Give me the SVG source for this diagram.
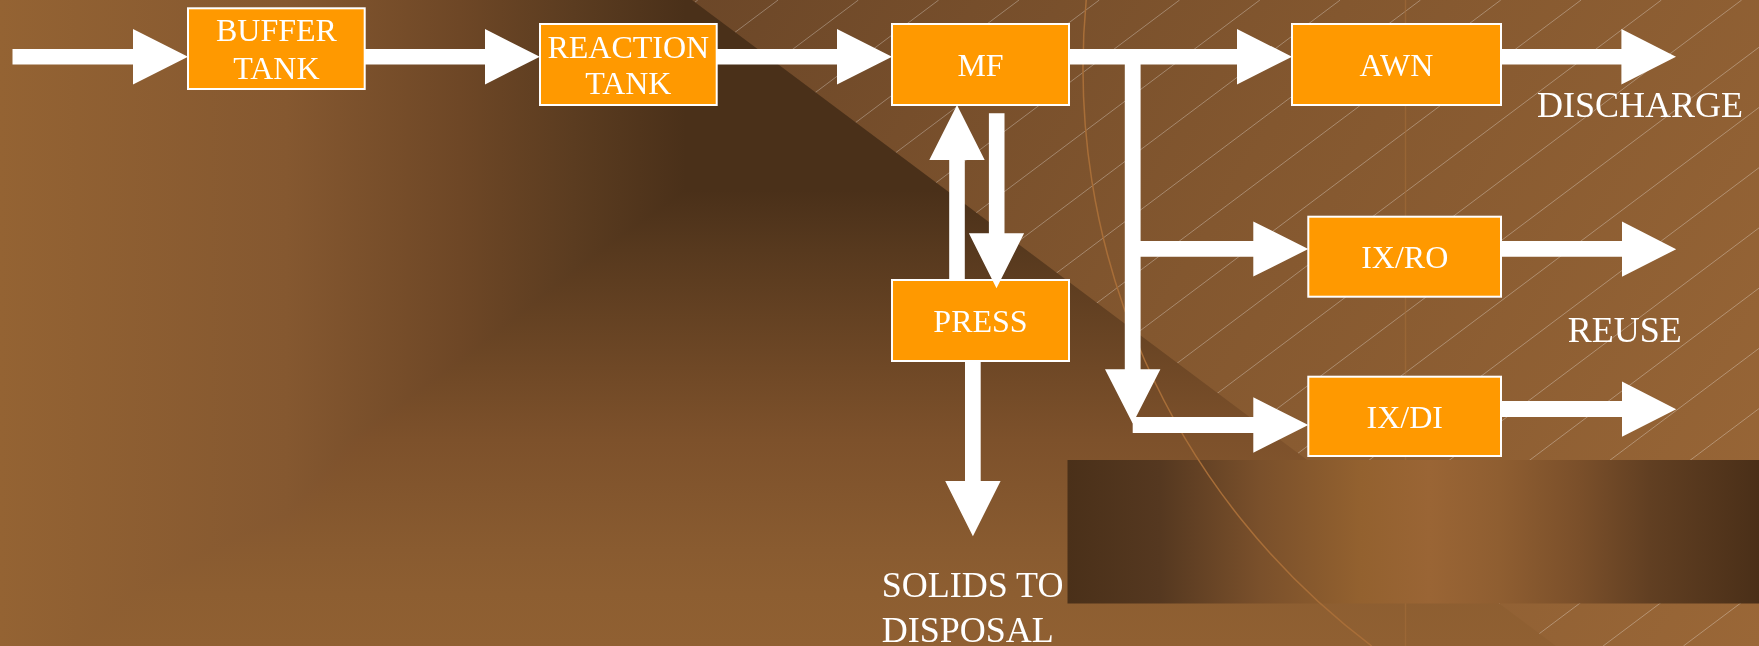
<svg xmlns="http://www.w3.org/2000/svg" width="1759" height="646" viewBox="0 0 1759 646">
<defs>
<style>
.box{fill:#FF9900;stroke:#FFFFFF;stroke-width:2}
.bt{font-family:"Liberation Serif","Times New Roman",serif;font-size:32px;fill:#FFFFFF;text-anchor:middle}
.lbl{font-family:"Liberation Serif","Times New Roman",serif;font-size:36px;fill:#FFFFFF}
.arr{fill:#FFFFFF}
.hatch{stroke:#FFFFFF;stroke-opacity:0.3;stroke-width:1;fill:none}
</style>
<linearGradient id="bgH" gradientUnits="userSpaceOnUse" x1="0" y1="0" x2="1759" y2="0">
<stop offset="0" stop-color="#946333"/>
<stop offset="0.163" stop-color="#855830"/>
<stop offset="0.261" stop-color="#6E4726"/>
<stop offset="0.326" stop-color="#5B3C20"/>
<stop offset="0.39" stop-color="#4A3019"/>
<stop offset="1" stop-color="#4A3019"/>
</linearGradient>
<linearGradient id="bgV" gradientUnits="userSpaceOnUse" x1="0" y1="0" x2="0" y2="646">
<stop offset="0" stop-color="#4A3019"/>
<stop offset="0.294" stop-color="#4A3019"/>
<stop offset="0.387" stop-color="#57391E"/>
<stop offset="0.593" stop-color="#724A27"/>
<stop offset="0.681" stop-color="#7D512B"/>
<stop offset="0.851" stop-color="#895B30"/>
<stop offset="0.918" stop-color="#8D5E31"/>
<stop offset="1" stop-color="#906032"/>
</linearGradient>
<linearGradient id="tri" gradientUnits="userSpaceOnUse" x1="692" y1="0" x2="1759" y2="646">
<stop offset="0" stop-color="#6C4728"/>
<stop offset="0.45" stop-color="#83572F"/>
<stop offset="1" stop-color="#9A6737"/>
</linearGradient>
<linearGradient id="band" gradientUnits="userSpaceOnUse" x1="1067" y1="0" x2="1759" y2="0">
<stop offset="0" stop-color="#4A3019"/>
<stop offset="0.134" stop-color="#553820"/>
<stop offset="0.279" stop-color="#7A502B"/>
<stop offset="0.423" stop-color="#93612F"/>
<stop offset="0.524" stop-color="#9A6535"/>
<stop offset="0.625" stop-color="#8F5E31"/>
<stop offset="0.741" stop-color="#7A4F2A"/>
<stop offset="0.842" stop-color="#613F22"/>
<stop offset="1" stop-color="#4A2F18"/>
</linearGradient>
<clipPath id="triClip">
<polygon points="692,0 1759,0 1759,646 1556,646"/>
</clipPath>
</defs>

<g id="background">
<rect x="0" y="0" width="1759" height="646" fill="url(#bgH)"/>
<rect x="0" y="0" width="1759" height="646" fill="url(#bgV)" style="mix-blend-mode:lighten"/>
<polygon points="692,0 1759,0 1759,646 1556,646" fill="url(#tri)"/>
<g clip-path="url(#triClip)" class="hatch">
<path d="M-163.5 646 L697.8 0 M-83.2 646 L778.1 0 M-2.9 646 L858.4 0 M77.4 646 L938.7 0 M157.7 646 L1019 0 M238 646 L1099.3 0 M318.3 646 L1179.6 0 M398.6 646 L1259.9 0 M478.9 646 L1340.2 0 M559.2 646 L1420.5 0 M639.5 646 L1500.8 0 M719.8 646 L1581.1 0 M800.1 646 L1661.4 0 M880.4 646 L1741.7 0 M960.7 646 L1822 0 M1041 646 L1902.3 0 M1121.3 646 L1982.6 0 M1201.6 646 L2062.9 0 M1281.9 646 L2143.2 0 M1362.2 646 L2223.5 0 M1442.5 646 L2303.8 0 M1522.8 646 L2384.1 0 M1603.1 646 L2464.4 0 M1683.4 646 L2544.7 0"/>
</g>
<line x1="1405.5" y1="0" x2="1405.5" y2="646" stroke="#A46C38" stroke-width="1.5" stroke-opacity="0.6"/>
<rect x="1067.5" y="460" width="691.5" height="143.5" fill="url(#band)"/>
<path d="M1086.2 0 A723 723 0 0 0 1371.7 646" fill="none" stroke="#A86E38" stroke-width="1.5"/>
</g>

<g id="connectors">
<path class="arr" d="M12.5 48.9 H133 V29 L188 56.7 L133 84.4 V64.5 H12.5 Z"/>
<path class="arr" d="M364.7 48.9 H485 V29 L539.8 56.7 L485 84.4 V64.5 H364.7 Z"/>
<path class="arr" d="M716.7 48.9 H837 V29 L892 56.7 L837 84.4 V64.5 H716.7 Z"/>
<path class="arr" d="M1069 48.9 H1237 V29 L1292 56.7 L1237 84.4 V64.5 H1069 Z"/>
<path class="arr" d="M1124.8 64 V369.3 H1105 L1132.7 423.5 L1160.4 369.3 H1140.6 V64 Z"/>
<path class="arr" d="M1140 240.9 H1253.3 V221.4 L1308.3 249 L1253.3 276.6 V256.7 H1140 Z"/>
<path class="arr" d="M1132.7 416.9 H1253.3 V397.3 L1308.3 425 L1253.3 452.7 V432.9 H1132.7 Z"/>
<path class="arr" d="M1501 48.9 H1621.4 V29 L1676 56.7 L1621.4 84.4 V64.5 H1501 Z"/>
<path class="arr" d="M1501 241 H1622 V221.5 L1676.2 249.2 L1622 276.8 V256.8 H1501 Z"/>
<path class="arr" d="M1501 400.9 H1622 V381.6 L1676.2 409.2 L1622 436.8 V416.9 H1501 Z"/>
<path class="arr" d="M949.2 280 V160 H929.3 L957 105 L984.7 160 H964.8 V280 Z"/>
<path class="arr" d="M965 361 V481 H945.2 L972.9 536.2 L1000.6 481 H980.7 V361 Z"/>
<text class="lbl" x="1537" y="117.3">DISCHARGE</text>
<text class="lbl" x="1567.7" y="341.7">REUSE</text>
<text class="lbl" x="881.7" y="596.7">SOLIDS TO</text>
<text class="lbl" x="881.7" y="641.7">DISPOSAL</text>
</g>

<g id="node-buffer">
<rect class="box" x="188" y="8.3" width="176.7" height="80.7"/>
<text class="bt" x="276.4" y="41">BUFFER</text>
<text class="bt" x="276.4" y="79">TANK</text>
</g>
<g id="node-reaction">
<rect class="box" x="540" y="24" width="176.7" height="81"/>
<text class="bt" x="628.3" y="57.7">REACTION</text>
<text class="bt" x="628.3" y="94.3">TANK</text>
</g>
<g id="node-mf">
<rect class="box" x="892" y="24" width="177" height="81"/>
<text class="bt" x="980.5" y="76">MF</text>
</g>
<g id="node-awn">
<rect class="box" x="1292" y="24" width="209" height="81"/>
<text class="bt" x="1396.5" y="76">AWN</text>
</g>
<g id="node-ixro">
<rect class="box" x="1308.3" y="216.7" width="192.7" height="80"/>
<text class="bt" x="1404.7" y="267.7">IX/RO</text>
</g>
<g id="node-ixdi">
<rect class="box" x="1308.3" y="376.7" width="192.7" height="79.3"/>
<text class="bt" x="1404.7" y="427.7">IX/DI</text>
</g>
<g id="node-press">
<rect class="box" x="892" y="280" width="177" height="81"/>
<text class="bt" x="980.5" y="331.7">PRESS</text>
</g>
<g id="connector-overlay">
<path class="arr" d="M988.9 113.3 V233.3 H968.9 L996.5 288.3 L1024.1 233.3 H1004.5 V113.3 Z"/>
</g>
</svg>
